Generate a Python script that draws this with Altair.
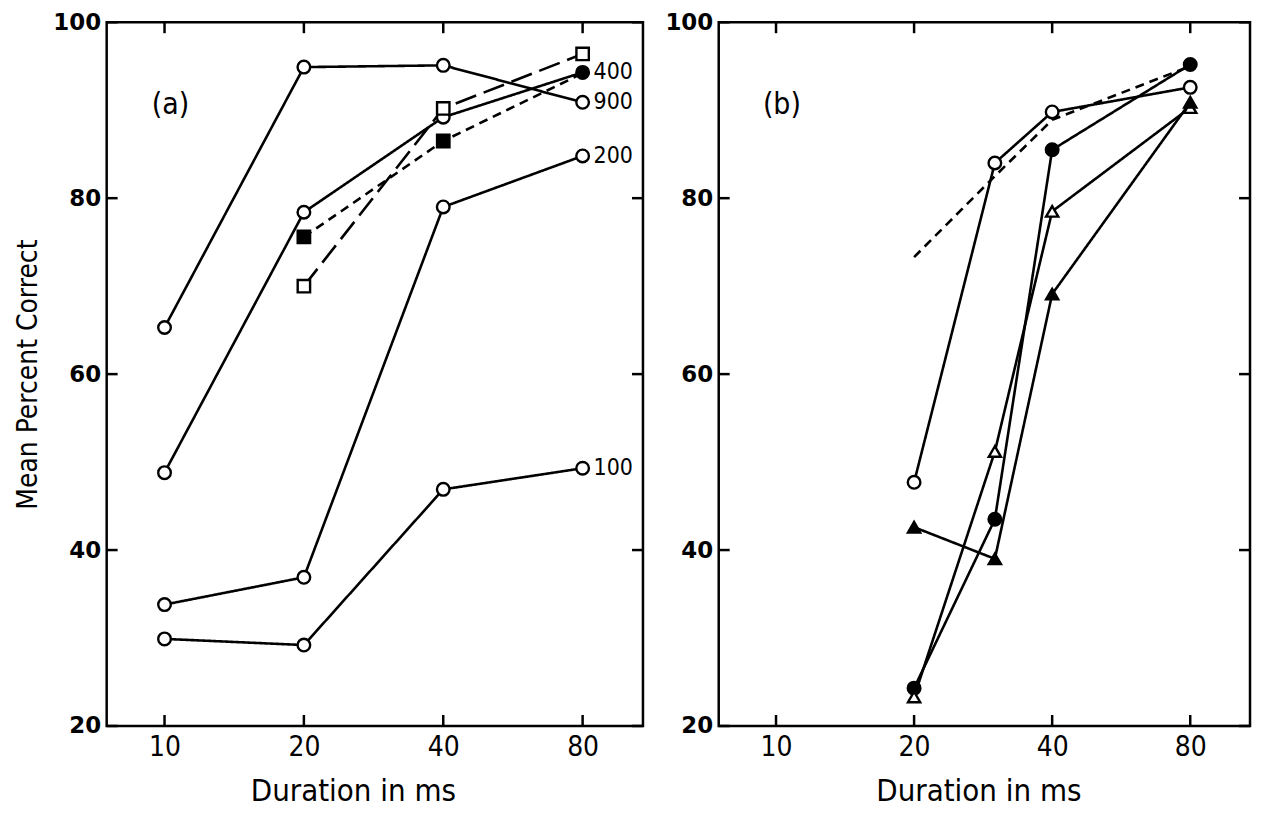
import altair as alt
import pandas as pd

# ---------------- data ----------------
# Panel (a): durations and mean percent correct per series
a_x = [10, 20, 40, 80]
a_100 = [29.9, 29.2, 46.9, 49.3]
a_200 = [33.8, 36.9, 79.0, 84.8]
a_400 = [48.8, 78.4, 89.2, 94.3]
a_900 = [65.3, 94.9, 95.1, 90.9]
a_sq_x = [20, 40, 80]
a_filled_sq = [75.6, 86.5, 94.2]
a_open_sq = [70.0, 90.2, 96.4]

# Panel (b)
b_x = [20, 30, 40, 80]
b_open_circle = [47.7, 84.0, 89.8, 92.6]
b_filled_circle = [24.3, 43.5, 85.5, 95.2]
b_open_tri = [23.3, 51.2, 78.5, 90.3]
b_filled_tri = [42.6, 39.0, 69.1, 90.9]
b_dashed = [73.3, 82.5, 88.9, 95.0]

x_ticks = [10, 20, 40, 80]
y_ticks = [20, 40, 60, 80, 100]
series_labels = ["100", "200", "400", "900"]
panel_names = ["(a)", "(b)"]

COND = "DejaVu Sans Condensed"
NARROW = "Liberation Sans Narrow, DejaVu Sans Condensed, sans-serif"


def rows(xs, ys, name, dash, shapes, fills):
    out = []
    for i, (x, y) in enumerate(zip(xs, ys)):
        out.append(dict(x=x, y=y, series=name, dash=dash,
                        shape=shapes[i], fill=fills[i]))
    return out


a_rows = []
a_rows += rows(a_x, a_100, "100", "solid", ["circle"] * 4, ["open"] * 4)
a_rows += rows(a_x, a_200, "200", "solid", ["circle"] * 4, ["open"] * 4)
a_rows += rows(a_x, a_400, "400", "solid", ["circle"] * 4, ["open"] * 3 + ["filled"])
a_rows += rows(a_x, a_900, "900", "solid", ["circle"] * 4, ["open"] * 4)
a_rows += rows(a_sq_x, a_filled_sq, "fsq", "short", ["square", "square", "none"], ["filled"] * 3)
a_rows += rows(a_sq_x, a_open_sq, "osq", "long", ["square"] * 3, ["open"] * 3)
df_a = pd.DataFrame(a_rows)

b_rows = []
b_rows += rows(b_x, b_open_circle, "oc", "solid", ["circle"] * 4, ["open"] * 4)
b_rows += rows(b_x, b_filled_circle, "fc", "solid", ["circle"] * 4, ["filled"] * 4)
b_rows += rows(b_x, b_open_tri, "ot", "solid", ["triangle-up"] * 4, ["open"] * 4)
b_rows += rows(b_x, b_filled_tri, "ft", "solid", ["triangle-up"] * 4, ["filled"] * 4)
b_rows += rows(b_x, b_dashed, "dash", "short", ["none"] * 4, ["open"] * 4)
df_b = pd.DataFrame(b_rows)

lab_df = pd.DataFrame({
    "x": [80, 80, 80, 80],
    "y": [a_100[-1], a_200[-1], a_400[-1], a_900[-1]],
    "text": series_labels,
})

W_A, W_B, H = 538, 533, 706

xscale = alt.Scale(type="log", domain=[7.5, 108], nice=False)
yscale = alt.Scale(domain=[20, 100], nice=False)


def panel(df, name, width, show_title, title_x, labels=None):
    xaxis = alt.Axis(values=x_ticks, format="d", domain=False, ticks=False, grid=False,
                     labelFont=NARROW, labelFontSize=28, labelPadding=8,
                     labelColor="black", title="Duration in ms", titleFont=COND,
                     titleFontSize=31, titleFontWeight="normal", titleColor="black",
                     titlePadding=15, titleX=title_x)
    yaxis_kw = dict(values=y_ticks, domain=False, ticks=False, grid=False,
                    labelFont="DejaVu Sans", labelFontWeight="bold", labelFontSize=23,
                    labelPadding=6, labelColor="black")
    if show_title:
        yaxis = alt.Axis(title="Mean Percent Correct", titleFont=COND, titleFontSize=28,
                         titleFontWeight="normal", titleColor="black", titlePadding=10,
                         **yaxis_kw)
    else:
        yaxis = alt.Axis(title="", **yaxis_kw)

    X = alt.X("x:Q", scale=xscale, axis=xaxis)
    Y = alt.Y("y:Q", scale=yscale, axis=yaxis)

    base = alt.Chart(df)
    lines = base.mark_line(color="black", strokeWidth=2.6).encode(
        x=X, y=Y,
        detail="series:N",
        strokeDash=alt.StrokeDash("dash:N", scale=alt.Scale(
            domain=["solid", "short", "long"], range=[[1, 0], [9, 6], [22, 8]]), legend=None),
    )
    pts = base.transform_filter(alt.datum.shape != "none").mark_point(
        filled=True, stroke="black", strokeWidth=2.4, opacity=1).encode(
        x=X, y=Y,
        shape=alt.Shape("shape:N", scale=alt.Scale(
            domain=["circle", "square", "triangle-up"],
            range=["circle", "square", "triangle-up"]), legend=None),
        size=alt.Size("shape:N", scale=alt.Scale(
            domain=["circle", "square", "triangle-up"], range=[160, 150, 230]), legend=None),
        fill=alt.Fill("fill:N", scale=alt.Scale(
            domain=["open", "filled"], range=["white", "black"]), legend=None),
    )
    xt = pd.DataFrame({"x": x_ticks})
    yt = pd.DataFrame({"y": y_ticks})
    tick_b = alt.Chart(xt).mark_rule(color="black", strokeWidth=2.5).encode(
        x=X, y=alt.value(H), y2=alt.value(H - 11))
    tick_t = alt.Chart(xt).mark_rule(color="black", strokeWidth=2.5).encode(
        x=X, y=alt.value(0), y2=alt.value(11))
    tick_l = alt.Chart(yt).mark_rule(color="black", strokeWidth=2.5).encode(
        y=Y, x=alt.value(0), x2=alt.value(11))
    tick_r = alt.Chart(yt).mark_rule(color="black", strokeWidth=2.5).encode(
        y=Y, x=alt.value(width - 11), x2=alt.value(width))
    pname = alt.Chart(pd.DataFrame({"x": [10.3], "y": [90.6], "text": [name]})).mark_text(
        font=COND, fontSize=30, color="black", align="center", baseline="middle").encode(
        x=X, y=Y, text="text:N")
    layers = [lines, tick_b, tick_t, tick_l, tick_r, pts, pname]
    if labels is not None:
        lab = alt.Chart(labels).mark_text(font=NARROW, fontSize=23, color="black",
                                          align="left", baseline="middle", dx=11).encode(
            x=X, y=Y, text="text:N")
        layers.append(lab)
    return alt.layer(*layers).properties(width=width, height=H)


pa = panel(df_a, panel_names[0], W_A, True, W_A / 2 - 22, lab_df)
pb = panel(df_b, panel_names[1], W_B, False, W_B / 2 - 6)

chart = alt.hconcat(pa, pb, spacing=17).properties(
    padding={"left": 5, "top": 0, "right": 0, "bottom": 0}
).configure(background="white").configure_view(stroke="black", strokeWidth=2.5)

chart.save("out.html", embed_options={"renderer": "svg", "actions": False})
